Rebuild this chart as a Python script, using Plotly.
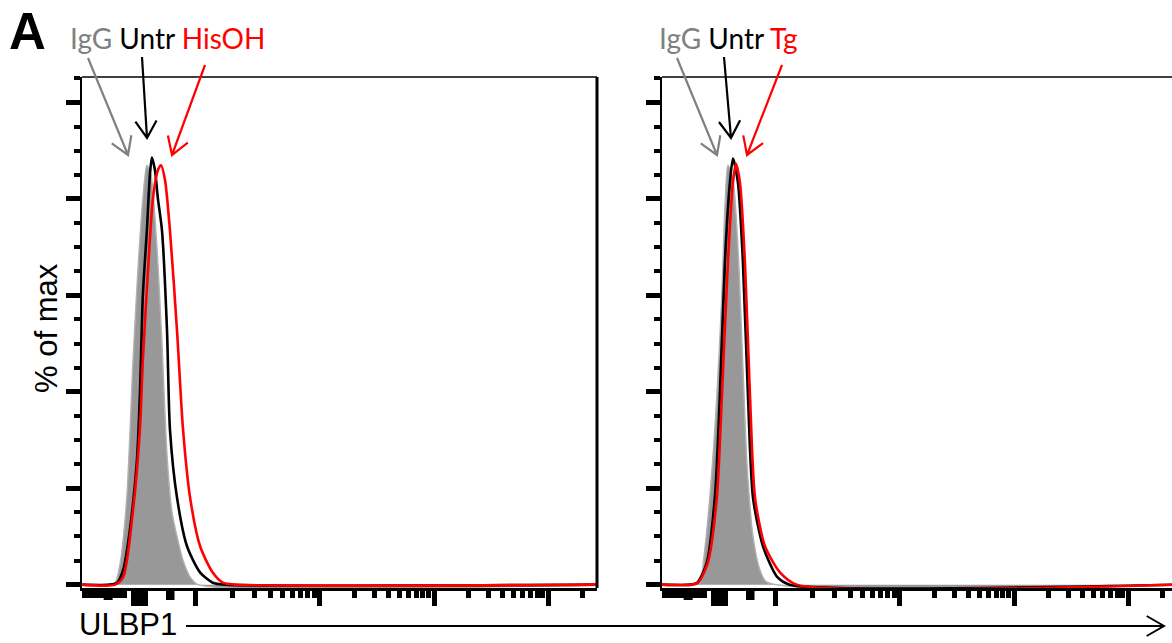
import numpy as np
import plotly.graph_objects as go

W, H = 1172, 643

# ---- histogram data: display channel (0-1024 biexponential scale) vs % of max ----
# Panel 1: ULBP1 staining, untreated vs HisOH
his_igg_ch = [0, 52, 66, 76, 89, 101, 111, 121, 129, 137, 149, 159, 169, 179, 189, 201, 215, 231, 1024]
his_igg_pct = [0, 0, 0.4, 4.5, 18, 45.5, 65, 80, 87, 85, 70, 50, 27, 15, 10, 5, 1.6, 0, 0]

his_untr_ch = [0, 56, 70, 82, 95, 109, 115, 121, 129, 135, 139, 145, 151, 159, 169, 175, 189, 209, 235, 260, 284, 1024]
his_untr_pct = [0, 0, 0.4, 3.1, 11.2, 25.5, 39, 60, 73.5, 85, 88.6, 86, 80, 73.5, 52.8, 32, 18, 7.9, 2.5, 0.4, 0, 0]

his_trt_ch = [0, 66, 82, 101, 115, 121, 131, 141, 151, 157, 165, 175, 189, 201, 215, 235, 260, 280, 304, 1024]
his_trt_pct = [0, 0, 1.6, 15, 32, 46.6, 64.8, 80, 86, 87, 84, 73.3, 52.6, 32, 18, 7.9, 2.5, 0.4, 0, 0]

# Panel 2: ULBP1 staining, untreated vs Tg
tg_igg_ch = [0, 66, 76, 82, 95, 109, 119, 125, 131, 141, 151, 161, 169, 181, 195, 209, 1024]
tg_igg_pct = [0, 0, 0.4, 4.5, 18, 39, 60, 78, 87, 84, 70, 45, 25, 10, 3, 0.5, 0]

tg_untr_ch = [0, 56, 70, 89, 105, 115, 125, 135, 141, 151, 161, 171, 181, 201, 229, 254, 1024]
tg_untr_pct = [0, 0, 0.4, 4.5, 18, 39, 66.7, 83.4, 88.4, 83.4, 66.7, 39, 18, 7.9, 1.6, 0, 0]

tg_trt_ch = [0, 60, 72, 91, 109, 119, 131, 141, 147, 155, 165, 175, 185, 205, 235, 268, 1024]
tg_trt_pct = [0, 0, 0.4, 4.5, 18, 39, 66.7, 83.4, 87.3, 83.4, 66.7, 39, 18, 7.9, 2.5, 0, 0]

treatments = ["HisOH", "Tg"]

# ---- axis tick positions (display channels) ----
decade_ch = [225, 473, 700, 927]          # 10^2 .. 10^5
zero_block_ch = [103, 111, 119, 127]      # ticks around zero
neg_minor_ch = [4, 12, 20, 28, 36, 44, 52, 60, 68, 76, 84]
mid_ch = [48, 56, 172, 179]
y_major = [0, 20, 40, 60, 80, 100]
y_minor = [v for v in range(5, 110, 5) if v % 20 != 0]

log_minor = []
for d0, d1 in zip(decade_ch[:-1], decade_ch[1:]):
    log_minor += [d0 + np.log10(k) * (d1 - d0) for k in range(2, 10)]
log_minor.append(decade_ch[-1] + np.log10(2) * (decade_ch[-1] - decade_ch[-2]))
x_major = zero_block_ch + decade_ch
x_minor = neg_minor_ch + log_minor

GRAY_FILL = "rgb(152,152,152)"
RED = "#ff0000"

fig = go.Figure()

panels = [
    ("x", "y", his_igg_ch, his_igg_pct, his_untr_ch, his_untr_pct, his_trt_ch, his_trt_pct),
    ("x2", "y2", tg_igg_ch, tg_igg_pct, tg_untr_ch, tg_untr_pct, tg_trt_ch, tg_trt_pct),
]
for xa, ya, gx, gy, ux, uy, tx, ty in panels:
    fig.add_trace(go.Scatter(x=gx, y=gy, xaxis=xa, yaxis=ya, mode="lines",
                             line=dict(color="rgb(178,178,178)", width=1.4, shape="spline", smoothing=0.7),
                             fill="tozeroy", fillcolor=GRAY_FILL, hoverinfo="skip"))
    fig.add_trace(go.Scatter(x=ux, y=uy, xaxis=xa, yaxis=ya, mode="lines",
                             line=dict(color="black", width=2.6, shape="spline", smoothing=0.7),
                             hoverinfo="skip"))
    fig.add_trace(go.Scatter(x=tx, y=ty, xaxis=xa, yaxis=ya, mode="lines",
                             line=dict(color=RED, width=2.6, shape="spline", smoothing=0.7),
                             hoverinfo="skip"))

ydom = [1 - 588 / H, 1 - 77 / H]
xdom1 = [82 / W, 597 / W]
xdom2 = [662 / W, 1.0]
xr1 = [0, 1024]
xr2 = [0, 1024 * (W - 662) / (597 - 82)]

def xaxis_cfg(dom, rng, anchor):
    return dict(domain=dom, range=rng, anchor=anchor, showgrid=False, zeroline=False,
                showline=True, linecolor="black", linewidth=3,
                ticks="outside", tickmode="array", tickvals=x_major, ticklen=15,
                tickwidth=5, tickcolor="black", showticklabels=False,
                minor=dict(tickmode="array", tickvals=x_minor, ticks="outside",
                           ticklen=7, tickwidth=5, tickcolor="black"))

def yaxis_cfg(anchor):
    return dict(domain=ydom, range=[-0.7, 105.3], anchor=anchor, showgrid=False,
                zeroline=False, showline=True, linecolor="black", linewidth=2,
                ticks="outside", tickmode="array", tickvals=y_major, ticklen=14,
                tickwidth=5, tickcolor="black", showticklabels=False,
                minor=dict(tickmode="array", tickvals=y_minor, ticks="outside",
                           ticklen=6, tickwidth=3.5, tickcolor="black"))

fig.update_layout(
    width=W, height=H, margin=dict(l=0, r=0, t=0, b=0),
    paper_bgcolor="white", plot_bgcolor="white", showlegend=False,
    xaxis=xaxis_cfg(xdom1, xr1, "y"),
    xaxis2=xaxis_cfg(xdom2, xr2, "y2"),
    yaxis=yaxis_cfg("x"),
    yaxis2=yaxis_cfg("x2"),
)

shapes = []
# frame: thin top edge on both panels, heavy right edge on the first panel
for xr, yr in [("x domain", "y domain"), ("x2 domain", "y2 domain")]:
    shapes.append(dict(type="line", xref=xr, yref=yr, x0=0, x1=1, y0=1, y1=1,
                       line=dict(color="black", width=1.6)))
shapes.append(dict(type="line", xref="x domain", yref="y domain", x0=1, x1=1, y0=0, y1=1,
                   line=dict(color="black", width=3)))

# medium-length ticks on the x axes
for xr, yr in [("x", "y domain"), ("x2", "y2 domain")]:
    for c in mid_ch:
        shapes.append(dict(type="line", xref=xr, yref=yr, ysizemode="pixel", yanchor=0,
                           x0=c, x1=c, y0=-2, y1=-12, line=dict(color="black", width=5)))

def px(x, y):
    return x / W, 1 - y / H

def arrow_path(tail, tip, head_len=20, head_ang=32):
    tx, ty = tip
    dx, dy = tail[0] - tx, tail[1] - ty
    n = np.hypot(dx, dy)
    dx, dy = dx / n, dy / n
    pts = []
    for s in (1, -1):
        a = np.radians(head_ang) * s
        rx = dx * np.cos(a) - dy * np.sin(a)
        ry = dx * np.sin(a) + dy * np.cos(a)
        pts.append((tx + rx * head_len, ty + ry * head_len))
    p = [px(*tail), px(*tip), px(*pts[0]), px(*pts[1])]
    return (f"M {p[0][0]},{p[0][1]} L {p[1][0]},{p[1][1]} "
            f"M {p[2][0]},{p[2][1]} L {p[1][0]},{p[1][1]} L {p[3][0]},{p[3][1]}")

# pointer arrows from the sample labels to the peaks
pointer_arrows = [
    ((88, 58), (128, 155), "rgb(128,128,128)"),
    ((142, 57), (147, 138), "black"),
    ((205, 65), (172, 155), RED),
    ((677, 58), (717, 155), "rgb(128,128,128)"),
    ((724, 57), (731, 138), "black"),
    ((782, 65), (747, 155), RED),
]
for tail, tip, col in pointer_arrows:
    shapes.append(dict(type="path", xref="paper", yref="paper", path=arrow_path(tail, tip),
                       line=dict(color=col, width=2.2)))

# long x-axis arrow beside the ULBP1 label
shapes.append(dict(type="path", xref="paper", yref="paper",
                   path=arrow_path((186, 626), (1164, 626), head_len=20, head_ang=30),
                   line=dict(color="black", width=2)))
fig.update_layout(shapes=shapes)

LABEL_FONT = dict(family="Lato, Open Sans, sans-serif", size=28, color="black")
annotations = [
    dict(text="<b>A</b>", x=7 / W, y=1 - 31 / H, xanchor="left", yanchor="middle",
         font=dict(family="Liberation Sans, Arial, sans-serif", size=51, color="black")),
    dict(text='<span style="color:rgb(128,128,128)">IgG</span> Untr '
              f'<span style="color:{RED}">{treatments[0]}</span>',
         x=68 / W, y=1 - 38 / H, xanchor="left", yanchor="middle", font=LABEL_FONT),
    dict(text='<span style="color:rgb(128,128,128)">IgG</span> Untr '
              f'<span style="color:{RED}">{treatments[1]}</span>',
         x=657 / W, y=1 - 38 / H, xanchor="left", yanchor="middle", font=LABEL_FONT),
    dict(text="% of max", x=46 / W, y=1 - 328 / H, xanchor="center", yanchor="middle",
         textangle=-90, font=dict(family="Liberation Sans, Arial, sans-serif", size=31, color="black")),
    dict(text="ULBP1", x=77 / W, y=1 - 624 / H, xanchor="left", yanchor="middle",
         font=dict(family="Liberation Sans, Arial, sans-serif", size=31, color="black")),
]
for a in annotations:
    a.update(xref="paper", yref="paper", showarrow=False)
fig.update_layout(annotations=annotations)

fig.write_html("out.html")
